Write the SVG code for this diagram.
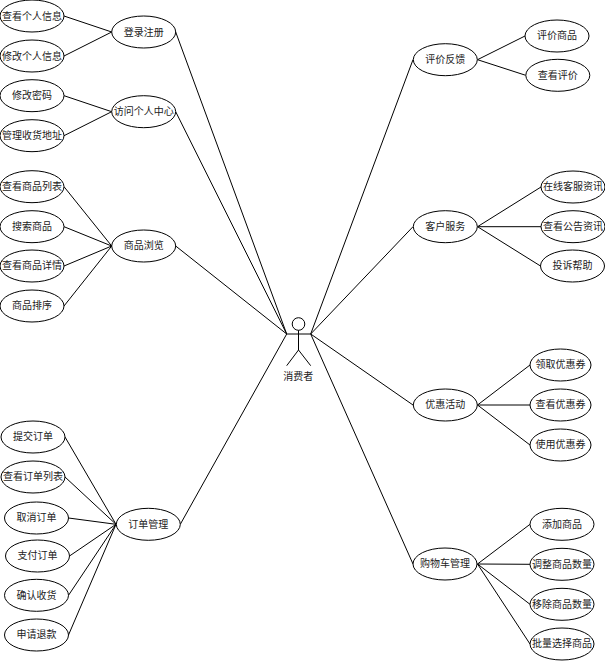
<svg xmlns="http://www.w3.org/2000/svg" width="605" height="661" viewBox="0 0 605 661">
<style>
.n ellipse{fill:#fff;stroke:#000;stroke-width:1}
text{font-family:"Noto Sans CJK SC","Liberation Sans",sans-serif;font-size:10px;fill:#222;text-anchor:middle}
#connectors line,#actor line,#actor circle{stroke:#000;stroke-width:1;fill:#fff}
</style>
<g id="connectors">
<line x1="64" y1="16" x2="111.700" y2="32"/><line x1="64" y1="56" x2="111.700" y2="32"/>
<line x1="64" y1="95.700" x2="111.700" y2="111.700"/><line x1="64" y1="135.700" x2="111.700" y2="111.700"/>
<line x1="64" y1="186.700" x2="111.700" y2="246"/><line x1="64" y1="226.700" x2="111.700" y2="246"/><line x1="64" y1="266" x2="111.700" y2="246"/><line x1="64" y1="306" x2="111.700" y2="246"/>
<line x1="65" y1="437" x2="116" y2="524.300"/><line x1="65" y1="477" x2="116" y2="524.300"/><line x1="68.500" y1="518" x2="116" y2="524.300"/><line x1="69.500" y1="556" x2="116" y2="524.300"/><line x1="68.500" y1="595.300" x2="116" y2="524.300"/><line x1="68.500" y1="635" x2="116" y2="524.300"/>
<line x1="175.700" y1="32" x2="286.700" y2="334"/><line x1="175.700" y1="111.700" x2="286.700" y2="334"/><line x1="175.700" y1="246" x2="286.700" y2="334"/><line x1="180.300" y1="524.300" x2="286.700" y2="334"/>
<line x1="310.700" y1="334" x2="413" y2="59.700"/><line x1="310.700" y1="334" x2="413" y2="226.700"/><line x1="310.700" y1="334" x2="413" y2="405"/><line x1="310.700" y1="334" x2="413" y2="564"/>
<line x1="477.500" y1="59.700" x2="525" y2="36"/><line x1="477.500" y1="59.700" x2="525.700" y2="75.300"/>
<line x1="477.500" y1="226.700" x2="541" y2="187"/><line x1="477.500" y1="226.700" x2="541" y2="226.700"/><line x1="477.500" y1="226.700" x2="540.500" y2="266"/>
<line x1="477.500" y1="405" x2="530" y2="365"/><line x1="477.500" y1="405" x2="530" y2="405"/><line x1="477.500" y1="405" x2="530" y2="445"/>
<line x1="477.500" y1="564" x2="530" y2="524.300"/><line x1="477.500" y1="564" x2="530" y2="564.300"/><line x1="477.500" y1="564" x2="530" y2="604.300"/><line x1="477.500" y1="564" x2="530" y2="644"/>
</g>
<g id="actor">
<circle cx="298.500" cy="324" r="6.300"/>
<line x1="298.500" y1="330.300" x2="298.500" y2="350"/>
<line x1="286.700" y1="334" x2="310.700" y2="334"/>
<line x1="298.500" y1="350" x2="286.700" y2="365.700"/><line x1="298.500" y1="350" x2="310.700" y2="365.700"/>
<text x="298.300" y="379.500">消费者</text>
</g>
<g id="n1" class="n"><ellipse cx="32" cy="16" rx="32" ry="16"/><text x="32" y="19.500">查看个人信息</text></g>
<g id="n2" class="n"><ellipse cx="32" cy="56" rx="32" ry="16"/><text x="32" y="59.500">修改个人信息</text></g>
<g id="n3" class="n"><ellipse cx="32" cy="95.700" rx="32" ry="16"/><text x="32" y="99">修改密码</text></g>
<g id="n4" class="n"><ellipse cx="32" cy="135.700" rx="32" ry="16"/><text x="32" y="139">管理收货地址</text></g>
<g id="n5" class="n"><ellipse cx="143.700" cy="32" rx="32" ry="16"/><text x="143.700" y="35.500">登录注册</text></g>
<g id="n6" class="n"><ellipse cx="143.700" cy="111.700" rx="32" ry="16"/><text x="143.700" y="115">访问个人中心</text></g>
<g id="n7" class="n"><ellipse cx="32" cy="186.700" rx="32" ry="16"/><text x="32" y="189.500">查看商品列表</text></g>
<g id="n8" class="n"><ellipse cx="32" cy="226.700" rx="32" ry="16"/><text x="32" y="229.500">搜索商品</text></g>
<g id="n9" class="n"><ellipse cx="32" cy="266" rx="32" ry="16"/><text x="32" y="269">查看商品详情</text></g>
<g id="n10" class="n"><ellipse cx="32" cy="306" rx="32" ry="16"/><text x="32" y="309">商品排序</text></g>
<g id="n11" class="n"><ellipse cx="143.700" cy="246" rx="32" ry="16"/><text x="143.700" y="249">商品浏览</text></g>
<g id="n12" class="n"><ellipse cx="33" cy="437" rx="32" ry="16"/><text x="33" y="440">提交订单</text></g>
<g id="n13" class="n"><ellipse cx="33" cy="477" rx="32" ry="16"/><text x="33" y="480">查看订单列表</text></g>
<g id="n14" class="n"><ellipse cx="36.500" cy="518" rx="32" ry="16"/><text x="36.500" y="521">取消订单</text></g>
<g id="n15" class="n"><ellipse cx="37.500" cy="556" rx="32" ry="16"/><text x="37.500" y="559">支付订单</text></g>
<g id="n16" class="n"><ellipse cx="36.500" cy="595.300" rx="32" ry="16"/><text x="36.500" y="598.500">确认收货</text></g>
<g id="n17" class="n"><ellipse cx="36.500" cy="635" rx="32" ry="16"/><text x="36.500" y="638">申请退款</text></g>
<g id="n18" class="n"><ellipse cx="148.300" cy="524.300" rx="32" ry="16"/><text x="148.300" y="527.500">订单管理</text></g>
<g id="n19" class="n"><ellipse cx="445.300" cy="59.700" rx="32" ry="16"/><text x="445.300" y="62.500">评价反馈</text></g>
<g id="n20" class="n"><ellipse cx="557" cy="36" rx="32" ry="16"/><text x="557" y="39">评价商品</text></g>
<g id="n21" class="n"><ellipse cx="557.800" cy="75.300" rx="32" ry="16"/><text x="557.800" y="78.500">查看评价</text></g>
<g id="n22" class="n"><ellipse cx="445.300" cy="226.700" rx="32" ry="16"/><text x="445.300" y="229.800">客户服务</text></g>
<g id="n23" class="n"><ellipse cx="573" cy="187" rx="32" ry="16"/><text x="573" y="190">在线客服资讯</text></g>
<g id="n24" class="n"><ellipse cx="573" cy="226.700" rx="32" ry="16"/><text x="573" y="229.800">查看公告资讯</text></g>
<g id="n25" class="n"><ellipse cx="572.500" cy="266" rx="32" ry="16"/><text x="572.500" y="269">投诉帮助</text></g>
<g id="n26" class="n"><ellipse cx="445.300" cy="405" rx="32" ry="16"/><text x="445.300" y="408">优惠活动</text></g>
<g id="n27" class="n"><ellipse cx="560.500" cy="365" rx="30.500" ry="16"/><text x="560.500" y="368">领取优惠券</text></g>
<g id="n28" class="n"><ellipse cx="560.500" cy="405" rx="30.500" ry="16"/><text x="560.500" y="408">查看优惠券</text></g>
<g id="n29" class="n"><ellipse cx="560.500" cy="445" rx="30.500" ry="16"/><text x="560.500" y="448">使用优惠券</text></g>
<g id="n30" class="n"><ellipse cx="445" cy="564" rx="32" ry="16"/><text x="445" y="567">购物车管理</text></g>
<g id="n31" class="n"><ellipse cx="562" cy="524.300" rx="32" ry="16"/><text x="562" y="527.500">添加商品</text></g>
<g id="n32" class="n"><ellipse cx="562" cy="564.300" rx="32" ry="16"/><text x="562" y="567.500">调整商品数量</text></g>
<g id="n33" class="n"><ellipse cx="562" cy="604.300" rx="32" ry="16"/><text x="562" y="607.500">移除商品数量</text></g>
<g id="n34" class="n"><ellipse cx="562" cy="644" rx="32" ry="16"/><text x="562" y="647">批量选择商品</text></g>
</svg>
